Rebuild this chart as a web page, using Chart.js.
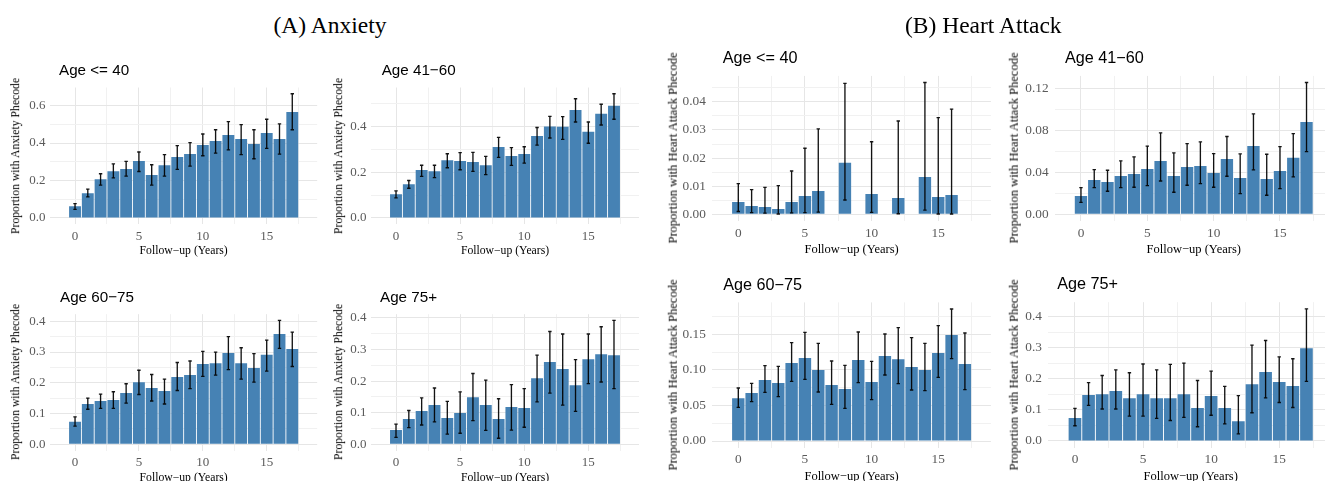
<!DOCTYPE html>
<html><head><meta charset="utf-8">
<script src="https://cdn.jsdelivr.net/npm/chart.js@4.4.1/dist/chart.umd.min.js"></script>
<style>
html,body{margin:0;padding:0;background:#fff;overflow:hidden;}
#wrap{position:relative;width:1325px;height:481px;overflow:hidden;background:#fff;}
#wrap canvas{position:absolute;}
.t{position:absolute;white-space:nowrap;line-height:1;color:#000;}
.main{font-family:'Liberation Serif','Times New Roman',serif;font-size:23.5px;text-align:center;width:400px;}
.sub{font-family:'Liberation Sans',Arial,Helvetica,sans-serif;}
.ytl{font-family:'Liberation Serif','Times New Roman',serif;transform:translate(-50%,-50%) rotate(-90deg);}
</style></head><body><div id="wrap"></div>
<script>
// ---------- data ----------
const years = [0,1,2,3,4,5,6,7,8,9,10,11,12,13,14,15,16,17];
const xTickLabels = ['0','5','10','15'];
const xLimits = [-1, 18];

// (A) Anxiety
const anx40   = [0.062,0.132,0.207,0.250,0.261,0.304,0.229,0.282,0.325,0.341,0.389,0.411,0.443,0.421,0.395,0.454,0.421,0.566];
const anx40Lo = [0.046,0.113,0.175,0.214,0.223,0.248,0.175,0.223,0.259,0.277,0.332,0.346,0.363,0.338,0.316,0.371,0.341,0.471];
const anx40Hi = [0.077,0.154,0.236,0.289,0.302,0.352,0.284,0.338,0.386,0.402,0.448,0.471,0.514,0.498,0.471,0.527,0.502,0.663];

const anx4160   = [0.104,0.148,0.210,0.205,0.253,0.249,0.245,0.231,0.311,0.271,0.280,0.359,0.400,0.399,0.473,0.377,0.456,0.491];
const anx4160Lo = [0.088,0.130,0.182,0.177,0.220,0.211,0.204,0.190,0.265,0.230,0.240,0.319,0.350,0.344,0.420,0.327,0.407,0.432];
const anx4160Hi = [0.119,0.164,0.231,0.231,0.281,0.286,0.287,0.270,0.353,0.308,0.312,0.396,0.445,0.444,0.522,0.420,0.498,0.544];

const anx6075   = [0.073,0.131,0.141,0.144,0.167,0.202,0.183,0.173,0.219,0.225,0.261,0.264,0.297,0.264,0.248,0.291,0.359,0.310];
const anx6075Lo = [0.059,0.114,0.117,0.117,0.134,0.162,0.141,0.131,0.175,0.181,0.221,0.225,0.243,0.212,0.202,0.238,0.312,0.253];
const anx6075Hi = [0.089,0.150,0.163,0.171,0.197,0.241,0.227,0.212,0.266,0.271,0.302,0.300,0.350,0.314,0.295,0.339,0.403,0.365];

const anx75   = [0.045,0.080,0.105,0.124,0.083,0.099,0.149,0.124,0.080,0.118,0.115,0.209,0.260,0.238,0.187,0.269,0.285,0.282];
const anx75Lo = [0.022,0.053,0.061,0.071,0.032,0.035,0.075,0.044,0.019,0.045,0.054,0.134,0.162,0.124,0.104,0.192,0.197,0.176];
const anx75Hi = [0.064,0.107,0.147,0.178,0.136,0.166,0.224,0.203,0.144,0.189,0.176,0.282,0.357,0.349,0.268,0.349,0.372,0.392];

// (B) Heart Attack
const ha40   = [0.0044,0.0030,0.0026,0.0019,0.0044,0.0065,0.0083,null,0.0183,null,0.0072,null,0.0058,null,0.0133,0.0062,0.0069,null];
const ha40Lo = [0.0010,0.0006,0.0004,0.0001,0.0005,0.0006,0.0008,null,0.0051,null,0.0007,null,0.0002,null,0.0015,0.0001,0.0001,null];
const ha40Hi = [0.0109,0.0088,0.0096,0.0102,0.0154,0.0235,0.0304,null,0.0466,null,0.0258,null,0.0332,null,0.0469,0.0344,0.0374,null];

const ha4160   = [0.0175,0.0327,0.0308,0.0365,0.0384,0.0432,0.0508,0.0365,0.0451,0.0460,0.0394,0.0527,0.0346,0.0651,0.0337,0.0413,0.0537,0.0879];
const ha4160Lo = [0.0114,0.0254,0.0219,0.0254,0.0257,0.0273,0.0317,0.0210,0.0276,0.0292,0.0257,0.0362,0.0197,0.0422,0.0181,0.0244,0.0356,0.0597];
const ha4160Hi = [0.0254,0.0425,0.0419,0.0508,0.0546,0.0648,0.0775,0.0584,0.0673,0.0689,0.0578,0.0740,0.0575,0.0956,0.0571,0.0644,0.0768,0.1254];

const ha6075   = [0.0600,0.0675,0.0858,0.0816,0.1097,0.1167,0.0998,0.0788,0.0731,0.1139,0.0830,0.1195,0.1148,0.1041,0.0998,0.1238,0.1490,0.1083];
const ha6075Lo = [0.0473,0.0553,0.0684,0.0623,0.0839,0.0867,0.0689,0.0516,0.0459,0.0820,0.0581,0.0928,0.0806,0.0717,0.0708,0.0895,0.1158,0.0722];
const ha6075Hi = [0.0745,0.0811,0.1060,0.1050,0.1383,0.1528,0.1373,0.1125,0.1064,0.1533,0.1120,0.1505,0.1594,0.1453,0.1373,0.1622,0.1856,0.1519];

const ha75   = [0.074,0.148,0.151,0.161,0.138,0.151,0.138,0.138,0.151,0.106,0.145,0.106,0.064,0.183,0.222,0.190,0.177,0.299];
const ha75Lo = [0.049,0.115,0.103,0.103,0.080,0.080,0.073,0.066,0.076,0.046,0.083,0.055,0.023,0.091,0.139,0.124,0.108,0.192];
const ha75Hi = [0.105,0.188,0.211,0.229,0.220,0.248,0.229,0.247,0.251,0.195,0.225,0.176,0.146,0.309,0.324,0.271,0.265,0.426];

// tick labels
const yTicksAnx40   = ['0.0','0.2','0.4','0.6'];
const yTicksAnx4160 = ['0.0','0.2','0.4'];
const yTicksAnx6075 = ['0.0','0.1','0.2','0.3','0.4'];
const yTicksAnx75   = ['0.0','0.1','0.2','0.3','0.4'];
const yTicksHa40    = ['0.00','0.01','0.02','0.03','0.04'];
const yTicksHa4160  = ['0.00','0.04','0.08','0.12'];
const yTicksHa6075  = ['0.00','0.05','0.10','0.15'];
const yTicksHa75    = ['0.0','0.1','0.2','0.3','0.4'];

const mainTitles = ['(A) Anxiety', '(B) Heart Attack'];
const xTitle = 'Follow\u2212up (Years)';
const yTitleAnx = 'Proportion with Anxiety Phecode';
const yTitleHa = 'Proportion with Heart Attack Phecode';

// ---------- layout (positions only) ----------
const GA = {fs:11.7, tf:13, sf:15.2, gap:4.5};
const GB = {fs:12.5, tf:13.3, sf:16.2, gap:6.5};
const panels = [
  {title:'Age <= 40', vals:anx40, lo:anx40Lo, hi:anx40Hi, yTicks:yTicksAnx40, yTitle:yTitleAnx,
   geo:Object.assign({L:50.1,R:317.2,T:87.5,B:224.2,ytx:16,xty:250.5,tx:59,tb:75},GA)},
  {title:'Age 41\u221260', vals:anx4160, lo:anx4160Lo, hi:anx4160Hi, yTicks:yTicksAnx4160, yTitle:yTitleAnx,
   geo:Object.assign({L:371,R:639,T:87.5,B:224.2,ytx:339,xty:250.5,tx:381.7,tb:75},GA)},
  {title:'Age 60\u221275', vals:anx6075, lo:anx6075Lo, hi:anx6075Hi, yTicks:yTicksAnx6075, yTitle:yTitleAnx,
   geo:Object.assign({L:50.1,R:317.2,T:314.2,B:450.5,ytx:16,xty:477.5,tx:60,tb:301.7},GA)},
  {title:'Age 75+', vals:anx75, lo:anx75Lo, hi:anx75Hi, yTicks:yTicksAnx75, yTitle:yTitleAnx,
   geo:Object.assign({L:371,R:639,T:314.2,B:450.5,ytx:339,xty:477.5,tx:380,tb:301.7},GA)},
  {title:'Age <= 40', vals:ha40, lo:ha40Lo, hi:ha40Hi, yTicks:yTicksHa40, yTitle:yTitleHa,
   geo:Object.assign({L:712.3,R:990.9,T:75.9,B:220.9,ytx:672.5,xty:249.5,tx:722.7,tb:62.7},GB)},
  {title:'Age 41\u221260', vals:ha4160, lo:ha4160Lo, hi:ha4160Hi, yTicks:yTicksHa4160, yTitle:yTitleHa,
   geo:Object.assign({L:1055.1,R:1332.4,T:75.9,B:220.9,ytx:1013.7,xty:249.5,tx:1065,tb:62.7},GB)},
  {title:'Age 60\u221275', vals:ha6075, lo:ha6075Lo, hi:ha6075Hi, yTicks:yTicksHa6075, yTitle:yTitleHa,
   geo:Object.assign({L:712.3,R:990.9,T:302.4,B:447.6,ytx:672.5,xty:476.5,tx:723.3,tb:289.3},GB)},
  {title:'Age 75+', vals:ha75, lo:ha75Lo, hi:ha75Hi, yTicks:yTicksHa75, yTitle:yTitleHa,
   geo:Object.assign({L:1048.4,R:1333,T:302.2,B:447.6,ytx:1013.7,xty:476.5,tx:1057.3,tb:289},GB)}
];

const SERIF = "'Liberation Serif','Times New Roman',serif";
const BAR = '#4682B4';
const TICK = '#5a5a5a';
const GRID_MAJ = '#e6e6e6';
const GRID_MIN = '#f1f1f1';
const wrap = document.getElementById('wrap');

const errPlugin = {
  id: 'errbars',
  afterDatasetsDraw(chart, args, o) {
    const {ctx} = chart; const xs = chart.scales.x, ys = chart.scales.y;
    ctx.save();
    ctx.strokeStyle = o.color; ctx.lineWidth = o.width;
    ctx.beginPath();
    o.xs.forEach((xv, i) => {
      if (o.lo[i] == null || o.hi[i] == null) return;
      const px = xs.getPixelForValue(xv);
      const p1 = ys.getPixelForValue(o.lo[i]);
      const p2 = ys.getPixelForValue(o.hi[i]);
      ctx.moveTo(px, p1); ctx.lineTo(px, p2);
      ctx.moveTo(px - o.cap, p1); ctx.lineTo(px + o.cap, p1);
      ctx.moveTo(px - o.cap, p2); ctx.lineTo(px + o.cap, p2);
    });
    ctx.stroke();
    ctx.restore();
  }
};

function gridValues(maj, lo, hi) {
  const step = maj[1] - maj[0];
  const out = [];
  for (let k = -1; ; k++) {
    const v = maj[0] + k * step / 2;
    if (v > hi + 1e-12) break;
    if (v >= lo) out.push(v);
  }
  return out;
}

function addText(cls, txt, left, top, size) {
  const d = document.createElement('div');
  d.className = 't ' + cls;
  d.textContent = txt;
  d.style.left = left + 'px'; d.style.top = top + 'px';
  if (size) d.style.fontSize = size + 'px';
  wrap.appendChild(d);
  return d;
}

function makePanel(p) {
  const g = p.geo;
  const cx = Math.max(0, Math.floor(g.L - 45));
  const cy = Math.floor(g.T) - 16;
  const cr = Math.ceil(g.R) + 4;
  const cb = Math.ceil(g.B + 42);
  const cw = cr - cx, ch = cb - cy;
  const canvas = document.createElement('canvas');
  canvas.width = cw; canvas.height = ch;
  canvas.style.left = cx + 'px'; canvas.style.top = cy + 'px';
  canvas.style.width = cw + 'px'; canvas.style.height = ch + 'px';
  wrap.appendChild(canvas);

  const wY = g.L - cx, hX = cb - g.B;
  const lhT = g.fs * 1.2, lhK = g.tf * 1.2;

  const all = p.vals.concat(p.lo, p.hi).filter(v => v != null);
  let ymin = Math.min(0, ...all), ymax = Math.max(...all);
  const ey = (ymax - ymin) * 0.05; ymin -= ey; ymax += ey;
  const xr = xLimits[1] - xLimits[0];
  const xmin = xLimits[0] - xr * 0.05, xmax = xLimits[1] + xr * 0.05;

  const yMaj = p.yTicks.map(Number);
  const yStep = yMaj[1] - yMaj[0];
  const yGrid = gridValues(yMaj, ymin, ymax);
  const xMaj = xTickLabels.map(Number);
  const xStep = xMaj[1] - xMaj[0];
  const xGrid = gridValues(xMaj, xmin, xmax);
  const majIdx = (arr, v, st) => arr.findIndex(m => Math.abs(m - v) < st * 1e-3);

  new Chart(canvas, {
    type: 'bar',
    data: { datasets: [{
      data: years.map((x, i) => ({x: x, y: p.vals[i]})).filter(d => d.y != null),
      backgroundColor: BAR, borderWidth: 0, barPercentage: 0.93, categoryPercentage: 1
    }]},
    options: {
      responsive: false, animation: false, devicePixelRatio: 1,
      layout: { padding: { left: 0, top: g.T - cy, right: cr - g.R, bottom: 0 } },
      plugins: {
        legend: {display: false}, tooltip: {enabled: false},
        errbars: { xs: years, lo: p.lo, hi: p.hi, color: 'rgba(0,0,0,0.92)', width: 1.35, cap: 1.7 }
      },
      scales: {
        x: {
          type: 'linear', min: xmin, max: xmax, offset: false,
          grid: { offset: false, drawTicks: false, lineWidth: 1,
                  color: c => (c.tick && majIdx(xMaj, c.tick.value, xStep) >= 0) ? GRID_MAJ : GRID_MIN },
          border: { display: false },
          afterBuildTicks: s => { s.ticks = xGrid.map(v => ({value: v})); },
          afterFit: s => { s.height = hX; },
          ticks: { autoSkip: false, maxRotation: 0, minRotation: 0, padding: 12.3 - lhK / 2, color: TICK,
                   font: {family: SERIF, size: g.tf},
                   callback: v => { const k = majIdx(xMaj, v, xStep); return k >= 0 ? xTickLabels[k] : ''; } },
          title: { display: true, text: xTitle, color: '#000', font: {family: SERIF, size: g.fs},
                   padding: { top: 0, bottom: hX - (g.xty - g.B) - lhT / 2 } }
        },
        y: {
          type: 'linear', min: ymin, max: ymax,
          grid: { drawTicks: false, lineWidth: 1,
                  color: c => (c.tick && majIdx(yMaj, c.tick.value, yStep) >= 0) ? GRID_MAJ : GRID_MIN },
          border: { display: false },
          afterBuildTicks: s => { s.ticks = yGrid.map(v => ({value: v})); },
          afterFit: s => { s.width = wY; },
          ticks: { autoSkip: false, padding: g.gap, color: TICK, font: {family: SERIF, size: g.tf},
                   callback: v => { const k = majIdx(yMaj, v, yStep); return k >= 0 ? p.yTicks[k] : ''; } },
          title: { display: false }
        }
      }
    },
    plugins: [errPlugin]
  });

  addText('sub', p.title, g.tx, g.tb - 0.8465 * g.sf, g.sf);
  addText('ytl', p.yTitle, g.ytx, (g.T + g.B) / 2, g.fs);
}

panels.forEach(makePanel);
addText('main', mainTitles[0], 330 - 200, 33.3 - 0.8375 * 23.5);
addText('main', mainTitles[1], 983.3 - 200, 33.3 - 0.8375 * 23.5);
</script></body></html>
